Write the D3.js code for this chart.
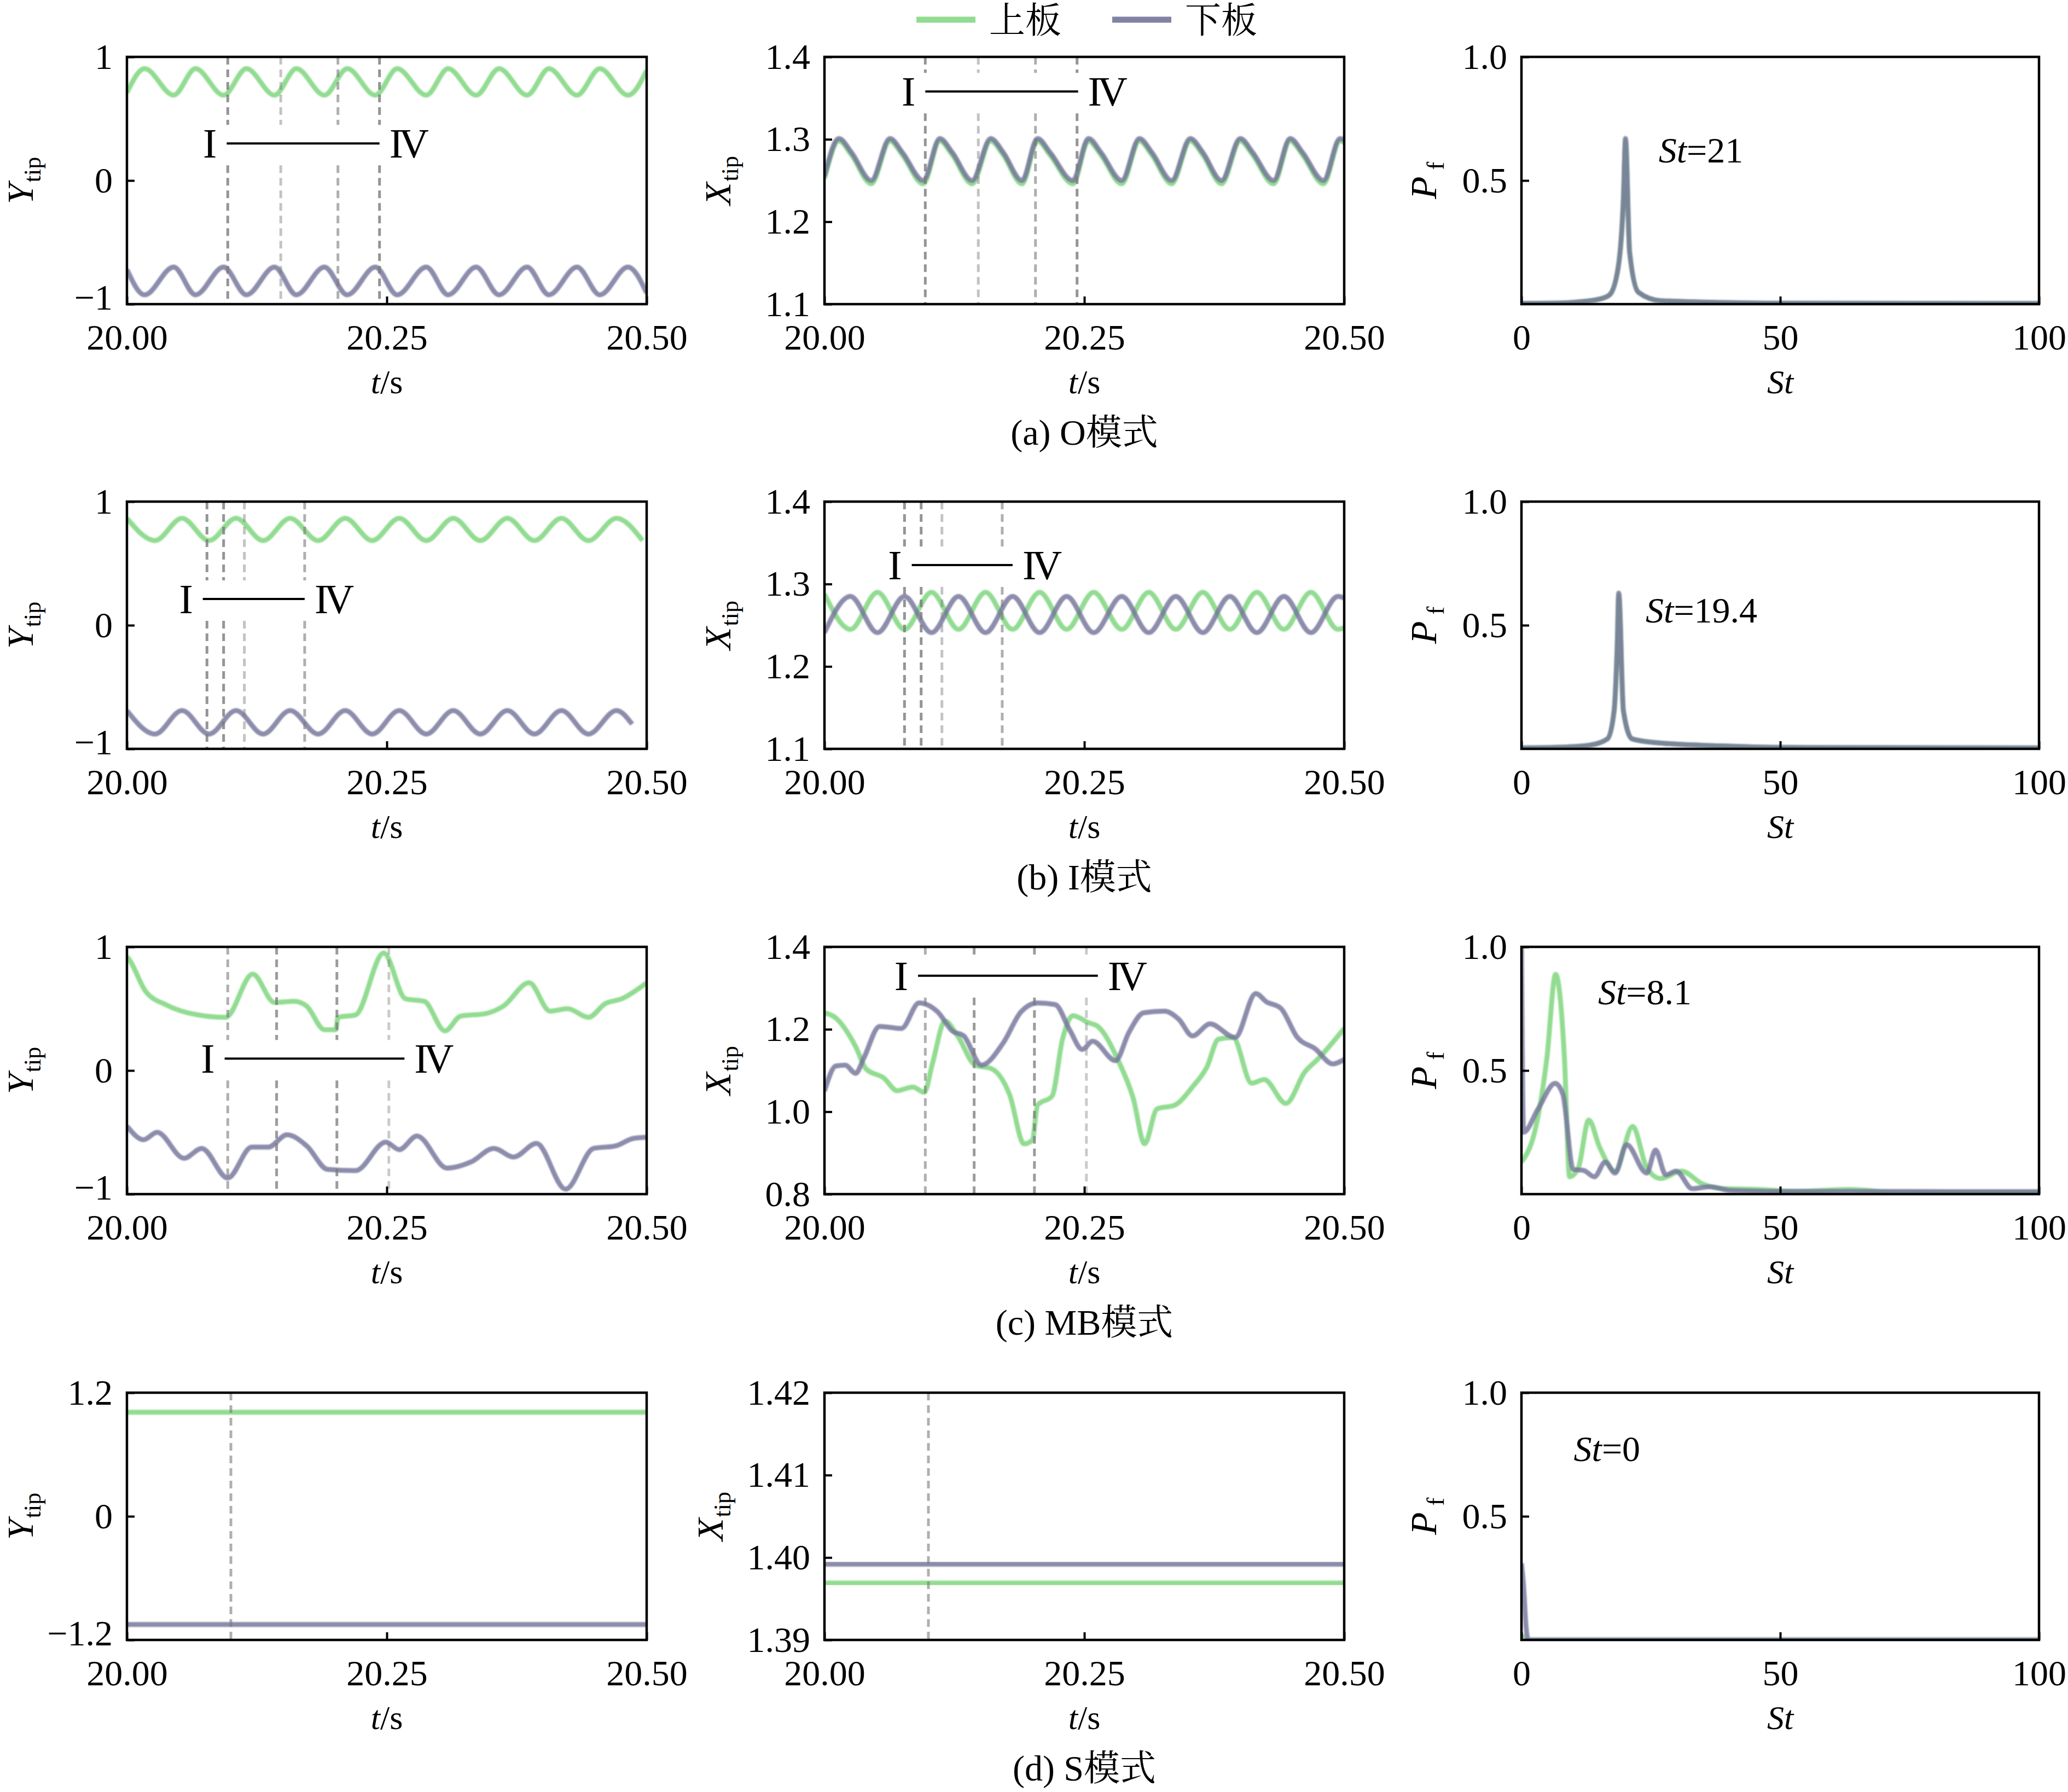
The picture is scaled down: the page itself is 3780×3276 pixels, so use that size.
<!DOCTYPE html>
<html>
<head>
<meta charset="utf-8">
<script src="https://cdn.jsdelivr.net/npm/d3@7"></script>
<style>
  body { margin: 0; background: #fff; }
  text { font-family: "Liberation Serif", "Noto Serif CJK SC", "Noto Sans CJK SC", serif; fill: #000; }
</style>
</head>
<body>
<script>
// ---- tick values / labels ----
var timeTicks = [20.00, 20.25, 20.50];
var stTicks = [0, 50, 100];
var yTipTicks = [-1, 0, 1];
var yTipTicksS = [-1.2, 0, 1.2];
var xTipTicksOI = [1.1, 1.2, 1.3, 1.4];
var xTipTicksMB = [0.8, 1.0, 1.2, 1.4];
var xTipTicksS = [1.39, 1.40, 1.41, 1.42];
var pfTicks = [0.5, 1.0];

var yTipLabels = ["\u22121", "0", "1"];
var yTipLabelsS = ["\u22121.2", "0", "1.2"];
var xTipLabelsOI = ["1.1", "1.2", "1.3", "1.4"];
var xTipLabelsMB = ["0.8", "1.0", "1.2", "1.4"];
var xTipLabelsS = ["1.39", "1.40", "1.41", "1.42"];

var captions = ["(a) O模式", "(b) I模式", "(c) MB模式", "(d) S模式"];
var stLabels = ["21", "19.4", "8.1", "0"];
var legendNames = ["上板", "下板"];

// ---- (a) O mode ----
var oYUpper = [[20.000,0.71],[20.017,0.905],[20.045,0.69],[20.066,0.905],[20.093,0.69],[20.115,0.905],[20.142,0.69],[20.163,0.905],[20.190,0.69],[20.212,0.905],[20.239,0.69],[20.260,0.905],[20.288,0.69],[20.309,0.905],[20.336,0.69],[20.358,0.905],[20.385,0.69],[20.406,0.905],[20.433,0.69],[20.455,0.905],[20.482,0.69],[20.500,0.89]];
var oYLower = [[20.000,-0.72],[20.017,-0.925],[20.045,-0.70],[20.066,-0.925],[20.093,-0.70],[20.115,-0.925],[20.142,-0.70],[20.163,-0.925],[20.190,-0.70],[20.212,-0.925],[20.239,-0.70],[20.260,-0.925],[20.288,-0.70],[20.309,-0.925],[20.336,-0.70],[20.358,-0.925],[20.385,-0.70],[20.406,-0.925],[20.433,-0.70],[20.455,-0.925],[20.482,-0.70],[20.500,-0.91]];
var oXUpper = [[20.000,1.252],[20.014,1.298],[20.026,1.281],[20.045,1.246],[20.063,1.298],[20.075,1.281],[20.095,1.246],[20.111,1.298],[20.123,1.281],[20.142,1.246],[20.160,1.298],[20.172,1.281],[20.190,1.246],[20.205,1.298],[20.217,1.281],[20.239,1.246],[20.254,1.298],[20.266,1.281],[20.286,1.246],[20.303,1.298],[20.315,1.281],[20.334,1.246],[20.352,1.298],[20.364,1.281],[20.382,1.246],[20.400,1.298],[20.412,1.281],[20.432,1.246],[20.448,1.298],[20.460,1.281],[20.480,1.246],[20.496,1.298],[20.500,1.296]];
var oXLower = [[20.000,1.255],[20.014,1.301],[20.026,1.284],[20.045,1.250],[20.063,1.301],[20.075,1.284],[20.095,1.250],[20.111,1.301],[20.123,1.284],[20.142,1.250],[20.160,1.301],[20.172,1.284],[20.190,1.250],[20.205,1.301],[20.217,1.284],[20.239,1.250],[20.254,1.301],[20.266,1.284],[20.286,1.250],[20.303,1.301],[20.315,1.284],[20.334,1.250],[20.352,1.301],[20.364,1.284],[20.382,1.250],[20.400,1.301],[20.412,1.284],[20.432,1.250],[20.448,1.301],[20.460,1.284],[20.480,1.250],[20.496,1.301],[20.500,1.299]];
var oPfUpper = [[0,0.003],[8,0.005],[11.5,0.01],[15,0.02],[17,0.037],[18.7,0.15],[19.7,0.42],[20.1,0.66],[20.9,0.21],[22.6,0.048],[26.9,0.014],[36.5,0.008],[50,0.004],[100,0.003]];
var oPfLower = [[0,0.003],[8,0.005],[11.5,0.01],[15,0.02],[17,0.037],[18.7,0.15],[19.7,0.43],[20.1,0.67],[20.9,0.21],[22.6,0.048],[26.9,0.014],[36.5,0.008],[50,0.004],[100,0.003]];
var oMarks = [20.097, 20.148, 20.203, 20.243];

// ---- (b) I mode ----
var iYUpper = [[20.000,0.865],[20.027,0.685],[20.053,0.865],[20.079,0.685],[20.105,0.865],[20.131,0.685],[20.157,0.865],[20.184,0.685],[20.210,0.865],[20.236,0.685],[20.262,0.865],[20.288,0.685],[20.314,0.865],[20.340,0.685],[20.366,0.865],[20.392,0.685],[20.418,0.865],[20.444,0.685],[20.471,0.865],[20.496,0.685]];
var iYLower = [[20.000,-0.69],[20.027,-0.88],[20.053,-0.69],[20.079,-0.88],[20.105,-0.69],[20.131,-0.88],[20.157,-0.69],[20.184,-0.88],[20.210,-0.69],[20.236,-0.88],[20.262,-0.69],[20.288,-0.88],[20.314,-0.69],[20.340,-0.88],[20.366,-0.69],[20.392,-0.88],[20.418,-0.69],[20.444,-0.88],[20.471,-0.69],[20.486,-0.80]];
var iXUpper = [[20.000,1.288],[20.025,1.245],[20.051,1.290],[20.077,1.245],[20.103,1.290],[20.129,1.245],[20.155,1.290],[20.181,1.245],[20.207,1.290],[20.233,1.245],[20.259,1.290],[20.286,1.245],[20.312,1.290],[20.338,1.245],[20.364,1.290],[20.390,1.245],[20.416,1.290],[20.442,1.245],[20.468,1.290],[20.494,1.245],[20.500,1.247]];
var iXLower = [[20.000,1.241],[20.025,1.285],[20.051,1.241],[20.077,1.285],[20.103,1.241],[20.129,1.285],[20.155,1.241],[20.181,1.285],[20.207,1.241],[20.233,1.285],[20.259,1.241],[20.286,1.285],[20.312,1.241],[20.338,1.285],[20.364,1.241],[20.390,1.285],[20.416,1.241],[20.442,1.285],[20.468,1.241],[20.494,1.285],[20.500,1.283]];
var iPfUpper = [[0,0.004],[9,0.008],[13.2,0.015],[16.6,0.04],[17.9,0.15],[18.5,0.41],[18.8,0.62],[19.7,0.15],[21.4,0.04],[26.1,0.025],[38.2,0.012],[50,0.006],[100,0.004]];
var iPfLower = [[0,0.004],[9,0.008],[13.2,0.015],[16.6,0.04],[17.9,0.155],[18.5,0.415],[18.8,0.63],[19.7,0.155],[21.4,0.04],[26.1,0.025],[38.2,0.012],[50,0.006],[100,0.004]];
var iMarks = [20.077, 20.093, 20.113, 20.171];

// ---- (c) MB mode ----
var mbYUpper = [[20.000,0.92],[20.002,0.90],[20.018,0.64],[20.038,0.53],[20.068,0.45],[20.095,0.43],[20.121,0.78],[20.142,0.55],[20.161,0.56],[20.173,0.52],[20.190,0.33],[20.201,0.33],[20.203,0.43],[20.220,0.45],[20.247,0.95],[20.268,0.58],[20.286,0.56],[20.306,0.32],[20.321,0.44],[20.345,0.46],[20.362,0.52],[20.387,0.71],[20.407,0.48],[20.424,0.50],[20.444,0.43],[20.460,0.54],[20.476,0.58],[20.500,0.71]];
var mbYLower = [[20.000,-0.45],[20.016,-0.56],[20.029,-0.50],[20.055,-0.71],[20.072,-0.63],[20.097,-0.87],[20.120,-0.62],[20.136,-0.62],[20.154,-0.52],[20.173,-0.61],[20.193,-0.80],[20.220,-0.81],[20.249,-0.58],[20.262,-0.64],[20.279,-0.53],[20.308,-0.79],[20.331,-0.74],[20.353,-0.63],[20.372,-0.70],[20.394,-0.59],[20.422,-0.96],[20.449,-0.63],[20.470,-0.61],[20.487,-0.55],[20.500,-0.54]];
var mbXUpper = [[20.000,1.240],[20.009,1.231],[20.030,1.158],[20.040,1.104],[20.057,1.082],[20.070,1.051],[20.085,1.060],[20.096,1.047],[20.104,1.118],[20.116,1.220],[20.128,1.184],[20.145,1.113],[20.161,1.104],[20.178,1.042],[20.192,0.922],[20.200,0.931],[20.205,1.016],[20.219,1.038],[20.229,1.176],[20.239,1.233],[20.254,1.216],[20.263,1.207],[20.283,1.122],[20.297,1.033],[20.308,0.922],[20.320,1.007],[20.337,1.016],[20.354,1.060],[20.368,1.109],[20.379,1.176],[20.393,1.180],[20.411,1.069],[20.423,1.078],[20.444,1.020],[20.462,1.096],[20.476,1.131],[20.500,1.202]];
var mbXLower = [[20.000,1.050],[20.011,1.111],[20.020,1.113],[20.030,1.093],[20.038,1.131],[20.053,1.207],[20.074,1.202],[20.091,1.264],[20.109,1.242],[20.123,1.196],[20.134,1.184],[20.151,1.113],[20.172,1.167],[20.189,1.242],[20.205,1.264],[20.222,1.260],[20.236,1.198],[20.248,1.151],[20.258,1.171],[20.280,1.124],[20.293,1.193],[20.307,1.240],[20.327,1.244],[20.341,1.224],[20.354,1.184],[20.371,1.213],[20.395,1.180],[20.415,1.287],[20.425,1.267],[20.439,1.251],[20.455,1.180],[20.472,1.153],[20.489,1.116],[20.500,1.127]];
var mbPfUpper = [[0,0.13],[0.5,0.144],[2.6,0.256],[4.9,0.548],[6.6,0.889],[8.3,0.552],[9.3,0.07],[11.0,0.107],[13.0,0.30],[15.1,0.19],[18.1,0.093],[21.5,0.274],[24.2,0.107],[26.9,0.063],[30.9,0.093],[35.0,0.041],[39.1,0.022],[45.8,0.019],[52.6,0.011],[63.4,0.019],[72.8,0.007],[100,0.007]];
var mbPfLower = [[0,1.0],[0.4,0.25],[3.2,0.344],[6.5,0.448],[8.0,0.404],[10.0,0.10],[12.0,0.096],[14.1,0.07],[16.2,0.13],[18.1,0.085],[20.3,0.20],[24.2,0.085],[25.9,0.178],[27.9,0.078],[29.9,0.093],[33.0,0.022],[36.4,0.030],[40.4,0.015],[50,0.011],[100,0.01]];
var mbMarks = [20.097, 20.144, 20.202, 20.252];

// ---- (d) S mode ----
var sYUpper = [[20.000,1.01],[20.500,1.01]];
var sYLower = [[20.000,-1.05],[20.500,-1.05]];
var sXUpper = [[20.000,1.3969],[20.500,1.3969]];
var sXLower = [[20.000,1.3992],[20.500,1.3992]];
var sPfUpper = [[0,0.02],[1,0],[100,0]];
var sPfLower = [[0,0.31],[0.4,0.22],[0.9,0.05],[1.3,0.0],[100,0.0]];
var sMarks = [20.100];

// ---- layout & style ----
var colX = [232, 1507, 2781], rowY = [104, 917, 1731, 2546];
var colW = [950, 950, 946], ph = 452;
var green = "#86d886", grey = "#74749a";
var fs = 66;

var svg = d3.select("body").append("svg")
    .attr("width", 3780).attr("height", 3276);
svg.append("rect").attr("width", 3780).attr("height", 3276).attr("fill", "#fff");

var defs = svg.append("defs");
defs.append("filter").attr("id", "soft")
    .append("feGaussianBlur").attr("stdDeviation", 1.2);

// annotation "I —— IV" in data units, per row for columns 1 and 2
var annots = [
  [{t0: 20.096, t1: 20.243, v: 0.30}, {t0: 20.097, t1: 20.244, v: 1.358}],
  [{t0: 20.073, t1: 20.171, v: 0.212}, {t0: 20.084, t1: 20.181, v: 1.323}],
  [{t0: 20.094, t1: 20.267, v: 0.096}, {t0: 20.090, t1: 20.263, v: 1.330}],
  [null, null]
];
var markShade = [[0.8, 0.45, 0.6, 0.8], [0.8, 0.8, 0.45, 0.6], [0.6, 0.75, 0.75, 0.4], [0.6]];
var stPos = [[26.5, 0.572], [24.0, 0.51], [14.8, 0.768], [10.1, 0.723]];

var rows = [
  {y: [yTipTicks, yTipLabels, oYUpper, oYLower], x: [xTipTicksOI, xTipLabelsOI, oXUpper, oXLower], p: [oPfUpper, oPfLower], marks: oMarks},
  {y: [yTipTicks, yTipLabels, iYUpper, iYLower], x: [xTipTicksOI, xTipLabelsOI, iXUpper, iXLower], p: [iPfUpper, iPfLower], marks: iMarks},
  {y: [yTipTicks, yTipLabels, mbYUpper, mbYLower], x: [xTipTicksMB, xTipLabelsMB, mbXUpper, mbXLower], p: [mbPfUpper, mbPfLower], marks: mbMarks},
  {y: [yTipTicksS, yTipLabelsS, sYUpper, sYLower], x: [xTipTicksS, xTipLabelsS, sXUpper, sXLower], p: [sPfUpper, sPfLower], marks: sMarks}
];

function labelFmt(ticks, labels) {
  return function (d) { return labels[ticks.indexOf(d)]; };
}

function panel(ri, ci, xDomain, xTicks, xFmt, yDomain, yTicks, yFmt, series, marks, titleMain, titleSub) {
  var pw = colW[ci];
  var g = svg.append("g").attr("transform", "translate(" + colX[ci] + "," + rowY[ri] + ")");
  var x = d3.scaleLinear().domain(xDomain).range([0, pw]);
  var y = d3.scaleLinear().domain(yDomain).range([ph, 0]);
  var clipId = "clip" + ri + ci;
  g.append("clipPath").attr("id", clipId).append("rect").attr("width", pw).attr("height", ph);

  var line = d3.line().x(function (d) { return x(d[0]); }).y(function (d) { return y(d[1]); })
      .curve(d3.curveMonotoneX);
  var plot = g.append("g").attr("clip-path", "url(#" + clipId + ")");
  plot.append("g").attr("filter", "url(#soft)")
      .selectAll(".series").data(series).enter().append("path")
      .attr("d", line)
      .attr("fill", "none")
      .attr("stroke", function (d, i) { return i === 0 ? green : grey; })
      .attr("stroke-width", 9)
      .attr("stroke-opacity", function (d, i) { return i === 0 ? 0.9 : 0.82; })
      .attr("stroke-linejoin", "round");

  // dashed marker lines, broken round the annotation
  if (marks) {
    var an = annots[ri][ci];
    marks.forEach(function (m, k) {
      var segs = an ? [[0, y(an.v) - 34], [y(an.v) + 40, ph]] : [[0, ph]];
      segs.forEach(function (s) {
        plot.append("line")
            .attr("x1", x(m)).attr("x2", x(m)).attr("y1", s[0]).attr("y2", s[1])
            .attr("stroke", "#7a7a7a").attr("stroke-opacity", markShade[ri][k])
            .attr("stroke-width", 5).attr("stroke-dasharray", "14,9");
      });
    });
    if (an) {
      g.append("line").attr("x1", x(an.t0)).attr("x2", x(an.t1))
          .attr("y1", y(an.v)).attr("y2", y(an.v))
          .attr("stroke", "#000").attr("stroke-width", 4);
      g.append("text").attr("x", x(an.t0) - 18).attr("y", y(an.v) + 26)
          .attr("text-anchor", "end").style("font-size", "76px").text("I");
      g.append("text").attr("x", x(an.t1) + 18).attr("y", y(an.v) + 26)
          .attr("text-anchor", "start").style("font-size", "76px")
          .style("letter-spacing", "-8px").text("IV");
    }
  }

  // axes with inward ticks
  var ax = g.append("g").attr("transform", "translate(0," + ph + ")")
      .call(d3.axisBottom(x).tickValues(xTicks).tickFormat(xFmt)
          .tickSizeInner(-14).tickSizeOuter(0).tickPadding(36));
  var ay = g.append("g")
      .call(d3.axisLeft(y).tickValues(yTicks).tickFormat(yFmt)
          .tickSizeInner(-14).tickSizeOuter(0).tickPadding(26));
  [ax, ay].forEach(function (a) {
    a.select(".domain").remove();
    a.selectAll("line").attr("stroke", "#000").attr("stroke-width", 4);
    a.selectAll("text").style("font-size", fs + "px")
        .style("font-family", "'Liberation Serif', serif").attr("fill", "#000");
  });
  // lift the lowest y label a little so it clears the first time label
  if (ci === 0) {
    ay.selectAll(".tick text").filter(function (d) { return d === yTicks[0]; }).attr("y", -12);
  }

  g.append("rect").attr("width", pw).attr("height", ph)
      .attr("fill", "none").attr("stroke", "#000").attr("stroke-width", 4.5);

  // x title
  var xt = g.append("text").attr("x", pw / 2).attr("y", ph + 163)
      .attr("text-anchor", "middle").style("font-size", "62px");
  if (ci < 2) {
    xt.append("tspan").style("font-style", "italic").text("t");
    xt.append("tspan").text("/s");
  } else {
    xt.append("tspan").style("font-style", "italic").text("St");
  }

  // y title
  var yx = [-172, -172, -156][ci] - (ri === 3 && ci === 1 ? 14 : 0);
  var yt = g.append("text")
      .attr("transform", "translate(" + yx + "," + (ph / 2) + ") rotate(-90)")
      .attr("text-anchor", "middle").style("font-size", "68px");
  yt.append("tspan").style("font-style", "italic").text(titleMain);
  yt.append("tspan").attr("dy", "0.32em").style("font-size", "44px")
      .attr("dx", ci === 2 ? "12px" : "2px").text(titleSub);

  return {g: g, x: x, y: y};
}

var xFmtTime = function (d) { return d3.format(".2f")(d); };
var xFmtSt = function (d) { return String(d); };
var pfFmt = function (d) { return d3.format(".1f")(d); };

rows.forEach(function (r, ri) {
  panel(ri, 0, [20, 20.5], timeTicks, xFmtTime, [r.y[0][0], r.y[0][r.y[0].length - 1]], r.y[0],
      labelFmt(r.y[0], r.y[1]), [r.y[2], r.y[3]], r.marks, "Y", "tip");
  panel(ri, 1, [20, 20.5], timeTicks, xFmtTime, [r.x[0][0], r.x[0][r.x[0].length - 1]], r.x[0],
      labelFmt(r.x[0], r.x[1]), [r.x[2], r.x[3]], r.marks, "X", "tip");
  var p = panel(ri, 2, [0, 100], stTicks, xFmtSt, [0, 1], pfTicks, pfFmt,
      [r.p[0], r.p[1]], null, "P", "f");
  var st = p.g.append("text").attr("x", p.x(stPos[ri][0])).attr("y", p.y(stPos[ri][1]))
      .style("font-size", fs + "px");
  st.append("tspan").style("font-style", "italic").text("St");
  st.append("tspan").text("=" + stLabels[ri]);

  svg.append("text").attr("x", 1982).attr("y", rowY[ri] + ph + 257)
      .attr("text-anchor", "middle").style("font-size", fs + "px").text(captions[ri]);
});

// legend
var legend = svg.append("g").attr("transform", "translate(1675,36)");
legendNames.forEach(function (name, i) {
  var lg = legend.append("g").attr("transform", "translate(" + (i * 358) + ",0)");
  lg.append("line").attr("x1", 0).attr("x2", 108).attr("y1", 0).attr("y2", 0)
      .attr("stroke", i === 0 ? green : grey).attr("stroke-width", 11).attr("stroke-opacity", 0.9);
  lg.append("text").attr("x", 133).attr("y", 24).style("font-size", "66px").text(name);
});
</script>
</body>
</html>
